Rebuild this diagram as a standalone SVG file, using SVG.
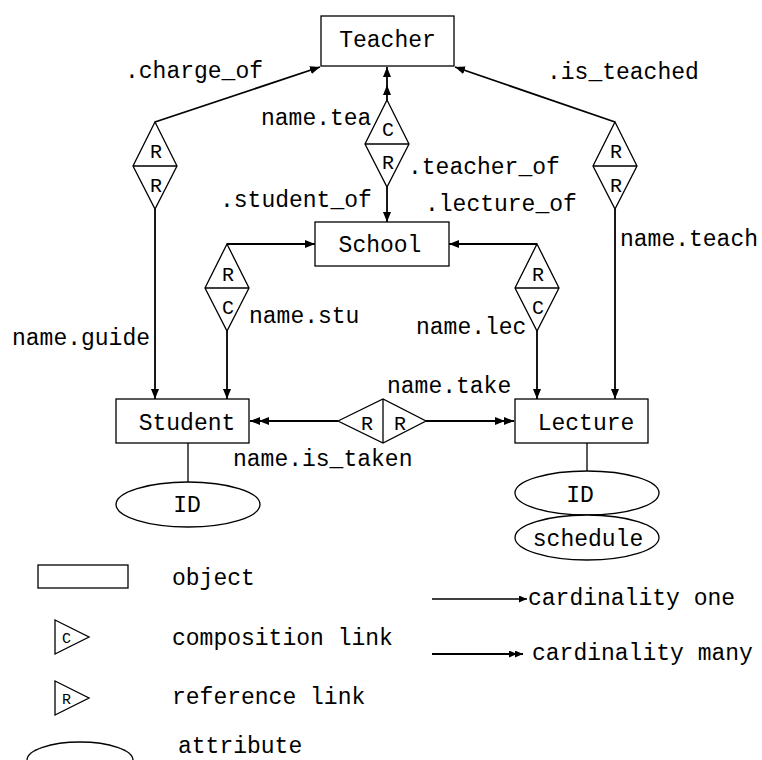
<svg xmlns="http://www.w3.org/2000/svg" width="762" height="760" viewBox="0 0 762 760">
<style>
text{font-family:"Liberation Mono","Courier New",monospace;font-size:23px;fill:#000}
.sm{font-size:15px}
.lt{font-size:20px}
.box{fill:#fff;stroke:#000;stroke-width:1.3}
.dia{fill:#fff;stroke:#000;stroke-width:1.3}
.ln{fill:none;stroke:#000;stroke-width:1.8}
.thin{fill:none;stroke:#000;stroke-width:1.3}
</style>
<defs>
<marker id="a1" markerWidth="12" markerHeight="10" refX="10" refY="4" orient="auto" markerUnits="userSpaceOnUse"><path d="M0,0 L10,4 L0,8 z" fill="#000"/></marker>
<marker id="a2" markerWidth="22" markerHeight="10" refX="19" refY="4" orient="auto" markerUnits="userSpaceOnUse"><path d="M0,0 L10,4 L0,8 z M9,0 L19,4 L9,8 z" fill="#000"/></marker>
<marker id="s1" markerWidth="10" markerHeight="8" refX="8" refY="3.5" orient="auto" markerUnits="userSpaceOnUse"><path d="M0,0 L8,3.5 L0,7 z" fill="#000"/></marker>
<marker id="s2" markerWidth="16" markerHeight="8" refX="14" refY="3.5" orient="auto" markerUnits="userSpaceOnUse"><path d="M0,0 L8,3.5 L0,7 z M6,0 L14,3.5 L6,7 z" fill="#000"/></marker>
</defs>

<g id="connectors">
<path class="ln" d="M155,122 L320,67" marker-end="url(#a1)"/>
<path class="ln" d="M615,122 L455,67" marker-end="url(#a1)"/>
<path class="ln" d="M387,100 L387,85 L387,67" marker-mid="url(#a1)" marker-end="url(#a1)"/>
<path class="ln" d="M387,187 L387,222" marker-end="url(#a1)"/>
<path class="ln" d="M155,209 L155,399" marker-end="url(#a1)"/>
<path class="ln" d="M227,244 L315,244" marker-end="url(#a1)"/>
<path class="ln" d="M227,331 L227,399" marker-end="url(#a1)"/>
<path class="ln" d="M537,244 L449,244" marker-end="url(#a1)"/>
<path class="ln" d="M537,331 L537,399" marker-end="url(#a1)"/>
<path class="ln" d="M615,209 L615,399" marker-end="url(#a1)"/>
<path class="ln" d="M338,421 L250,421" marker-end="url(#a2)"/>
<path class="ln" d="M426,421 L514,421" marker-end="url(#a2)"/>
<path class="thin" d="M188,443 L188,482"/>
<path class="thin" d="M587,443 L587,471"/>
</g>

<g id="labels">
<text x="125" y="78">.charge_of</text>
<text x="547" y="79">.is_teached</text>
<text x="261" y="125">name.tea</text>
<text x="408" y="174">.teacher_of</text>
<text x="220" y="207">.student_of</text>
<text x="425" y="211">.lecture_of</text>
<text x="620" y="246">name.teach</text>
<text x="249" y="323">name.stu</text>
<text x="12" y="345">name.guide</text>
<text x="416" y="334">name.lec</text>
<text x="387" y="393">name.take</text>
<text x="233" y="466">name.is_taken</text>
</g>

<g id="Teacher">
<rect class="box" x="321" y="16" width="133" height="50"/>
<text x="387.5" y="47" text-anchor="middle">Teacher</text>
</g>
<g id="School">
<rect class="box" x="315" y="222" width="134" height="44"/>
<text x="380" y="252" text-anchor="middle">School</text>
</g>
<g id="Student">
<rect class="box" x="116" y="399" width="133" height="44"/>
<text x="187" y="430" text-anchor="middle">Student</text>
</g>
<g id="Lecture">
<rect class="box" x="515" y="399" width="133" height="44"/>
<text x="586" y="430" text-anchor="middle">Lecture</text>
</g>

<g id="rel_charge_of">
<path class="dia" d="M155,122 L177,166 L155,209 L133,166 Z M133,166 L177,166"/>
<text class="lt" x="156" y="158" text-anchor="middle">R</text>
<text class="lt" x="156" y="192" text-anchor="middle">R</text>
</g>
<g id="rel_teacher_of">
<path class="dia" d="M387,100 L409,144 L387,187 L365,144 Z M365,144 L409,144"/>
<text class="lt" x="388" y="136" text-anchor="middle">C</text>
<text class="lt" x="388" y="169" text-anchor="middle">R</text>
</g>
<g id="rel_is_teached">
<path class="dia" d="M615,122 L637,166 L615,209 L593,166 Z M593,166 L637,166"/>
<text class="lt" x="616" y="158" text-anchor="middle">R</text>
<text class="lt" x="616" y="192" text-anchor="middle">R</text>
</g>
<g id="rel_student_of">
<path class="dia" d="M227,244 L249,288 L227,331 L205,288 Z M205,288 L249,288"/>
<text class="lt" x="228" y="281" text-anchor="middle">R</text>
<text class="lt" x="228" y="314" text-anchor="middle">C</text>
</g>
<g id="rel_lecture_of">
<path class="dia" d="M537,244 L559,288 L537,331 L515,288 Z M515,288 L559,288"/>
<text class="lt" x="538" y="281" text-anchor="middle">R</text>
<text class="lt" x="538" y="314" text-anchor="middle">C</text>
</g>
<g id="rel_take">
<path class="dia" d="M338,421 L383,399 L426,421 L383,443 Z M383,399 L383,443"/>
<text class="lt" x="367" y="430" text-anchor="middle">R</text>
<text class="lt" x="400" y="430" text-anchor="middle">R</text>
</g>

<g id="Student_ID">
<ellipse class="box" cx="188" cy="504.5" rx="72" ry="22.5"/>
<text x="187" y="512" text-anchor="middle">ID</text>
</g>
<g id="Lecture_ID">
<ellipse class="box" cx="587" cy="493" rx="72" ry="22"/>
<text x="580" y="502" text-anchor="middle">ID</text>
</g>
<g id="Lecture_schedule">
<ellipse class="box" cx="587" cy="537.5" rx="72" ry="22.5"/>
<text x="588" y="546" text-anchor="middle">schedule</text>
</g>

<g id="legend">
<rect class="box" x="38" y="565" width="90" height="23"/>
<text x="172" y="585">object</text>
<path class="thin" d="M55,620 L89,637 L55,654 Z"/>
<text class="sm" x="62" y="643">C</text>
<text x="172" y="645">composition link</text>
<path class="thin" d="M55,681 L89,698 L55,715 Z"/>
<text class="sm" x="62" y="704">R</text>
<text x="172" y="704">reference link</text>
<ellipse class="thin" cx="80" cy="760" rx="53" ry="18"/>
<text x="178" y="753">attribute</text>
<path class="thin" d="M432,599 L527,599" marker-end="url(#s1)"/>
<text x="528" y="605">cardinality one</text>
<path class="ln" d="M432,654 L523,654" marker-end="url(#s2)"/>
<text x="532" y="660">cardinality many</text>
</g>
</svg>
